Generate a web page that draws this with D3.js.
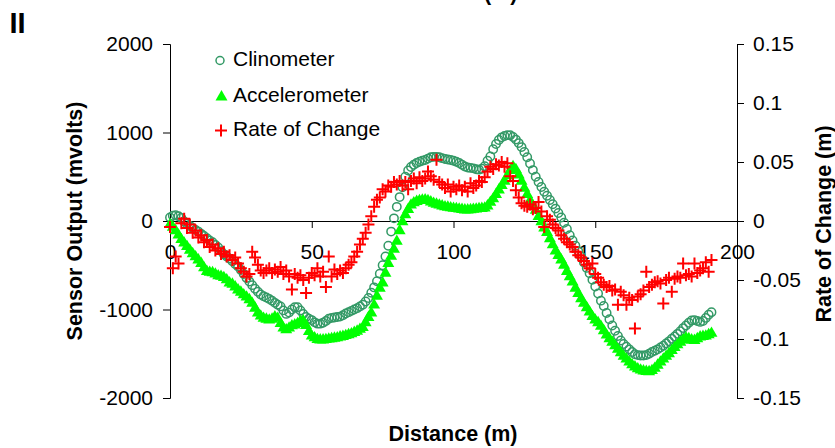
<!DOCTYPE html>
<html>
<head>
<meta charset="utf-8">
<script src="https://cdn.jsdelivr.net/npm/d3@7/dist/d3.min.js"></script>
<style>
  html, body { margin: 0; padding: 0; background: #fff; }
  svg { display: block; }
  text { font-family: "Liberation Sans", Arial, sans-serif; fill: #000; }
</style>
</head>
<body>
<svg id="chart" width="835" height="448"></svg>
<script>
// Distance along the profile (m)
const distance = [
  0,1,2,3,4,5,6,7,8,9,10,11,12,13,14,15,16,17,18,19,20,21,22,23,24,25,26,27,28,29,
  30,31,32,33,34,35,36,37,38,39,40,41,42,43,44,45,46,47,48,49,50,51,52,53,54,55,56,57,58,59,
  60,61,62,63,64,65,66,67,68,69,70,71,72,73,74,75,76,77,78,79,80,81,82,83,84,85,86,87,88,89,
  90,91,92,93,94,95,96,97,98,99,100,101,102,103,104,105,106,107,108,109,110,111,112,113,114,115,116,117,118,119,
  120,121,122,123,124,125,126,127,128,129,130,131,132,133,134,135,136,137,138,139,140,141,142,143,144,145,146,147,148,149,
  150,151,152,153,154,155,156,157,158,159,160,161,162,163,164,165,166,167,168,169,170,171,172,173,174,175,176,177,178,179,
  180,181,182,183,184,185,186,187,188,189,190,191
];

// Clinometer output (mV)
const clinometer = [
  40,60,65,55,35,-5,-30,-55,-80,-100,-120,-145,-170,-195,-220,-240,-270,-300,-340,-375,
  -400,-425,-455,-485,-515,-555,-600,-645,-685,-725,-765,-800,-830,-850,-865,-880,-900,-925,-945,-965,
  -1010,-1050,-1035,-1000,-975,-975,-1010,-1050,-1085,-1105,-1120,-1145,-1160,-1160,-1150,-1130,-1105,-1095,-1090,-1085,
  -1080,-1065,-1045,-1030,-1015,-1000,-985,-965,-945,-910,-870,-810,-750,-680,-595,-500,-400,-280,-120,30,
  160,270,380,500,570,610,635,655,670,680,690,705,720,725,725,720,710,700,695,690,
  680,670,655,635,615,605,600,595,585,580,590,620,680,730,810,870,915,945,960,970,
  970,950,920,880,835,780,720,650,575,500,440,385,330,285,237,190,140,90,40,-20,
  -90,-160,-220,-280,-340,-400,-470,-530,-590,-665,-740,-820,-900,-960,-1040,-1110,-1180,-1240,-1300,-1350,
  -1390,-1420,-1450,-1480,-1505,-1515,-1520,-1520,-1515,-1500,-1480,-1465,-1450,-1430,-1410,-1385,-1360,-1330,-1305,-1275,
  -1245,-1210,-1180,-1150,-1125,-1120,-1130,-1140,-1130,-1095,-1060,-1030
];

// Accelerometer output (mV)
const accelerometer = [
  -40,-70,-110,-160,-210,-250,-290,-330,-370,-405,-440,-480,-530,-570,-580,-585,-600,-620,-625,-640,
  -665,-700,-715,-745,-780,-805,-835,-860,-890,-930,-985,-1040,-1075,-1100,-1110,-1120,-1110,-1085,-1100,-1160,
  -1210,-1230,-1210,-1185,-1175,-1160,-1135,-1130,-1180,-1250,-1300,-1320,-1340,-1345,-1345,-1340,-1335,-1330,-1325,-1320,
  -1310,-1305,-1295,-1285,-1275,-1260,-1245,-1225,-1205,-1150,-1090,-1040,-950,-850,-760,-700,-590,-480,-400,-320,
  -230,-110,-10,70,130,180,205,220,230,235,237,230,215,200,190,180,170,160,155,148,
  143,140,135,130,125,125,128,132,135,140,142,145,170,210,250,300,350,400,450,510,
  570,615,580,520,450,370,300,230,170,120,50,-10,-80,-130,-200,-270,-340,-390,-440,-500,
  -570,-630,-690,-760,-820,-880,-930,-980,-1030,-1080,-1120,-1150,-1190,-1240,-1290,-1330,-1370,-1410,-1450,-1490,
  -1530,-1560,-1595,-1625,-1650,-1670,-1685,-1695,-1700,-1703,-1690,-1665,-1630,-1595,-1560,-1530,-1500,-1465,-1430,-1400,
  -1370,-1345,-1320,-1330,-1345,-1350,-1330,-1310,-1305,-1300,-1285,-1270
];

// Rate of change (m), secondary axis
const rateOfChange = [
  -0.005,-0.040,-0.030,-0.036,-0.002,0.002,-0.006,-0.003,-0.010,-0.008,-0.014,-0.012,-0.018,-0.016,-0.022,-0.020,-0.025,-0.023,-0.028,-0.026,
  -0.030,-0.029,-0.033,-0.031,-0.036,-0.040,-0.043,-0.047,-0.045,-0.026,-0.031,-0.037,-0.042,-0.044,-0.042,-0.040,-0.044,-0.041,-0.043,-0.039,
  -0.045,-0.042,-0.047,-0.058,-0.045,-0.048,-0.046,-0.050,-0.061,-0.048,-0.044,-0.046,-0.040,-0.047,-0.043,-0.056,-0.030,-0.047,-0.041,-0.045,
  -0.042,-0.044,-0.040,-0.037,-0.035,-0.030,-0.026,-0.020,-0.015,-0.010,-0.003,0.004,0.012,0.018,0.020,0.027,0.025,0.030,0.029,0.033,
  0.031,0.034,0.030,0.033,0.027,0.034,0.036,0.032,0.037,0.034,0.036,0.042,0.038,0.035,0.052,0.033,0.031,0.028,0.031,0.025,
  0.029,0.027,0.030,0.026,0.029,0.025,0.032,0.028,0.030,0.034,0.033,0.037,0.042,0.046,0.044,0.048,0.047,0.050,0.046,0.049,
  0.038,0.034,0.026,0.020,0.015,0.013,0.012,0.014,0.010,0.011,0.016,0.008,-0.005,0.004,0.001,-0.003,-0.006,-0.008,-0.012,-0.015,
  -0.018,-0.020,-0.022,-0.026,-0.029,-0.031,-0.034,-0.037,-0.040,-0.036,-0.045,-0.048,-0.052,-0.054,-0.056,-0.055,-0.059,-0.058,-0.071,-0.060,
  -0.063,-0.071,-0.065,-0.067,-0.091,-0.064,-0.062,-0.059,-0.043,-0.056,-0.054,-0.052,-0.051,-0.053,-0.070,-0.050,-0.048,-0.060,-0.049,-0.047,
  -0.048,-0.036,-0.046,-0.045,-0.047,-0.036,-0.044,-0.042,-0.040,-0.035,-0.043,-0.033
];

// Axis tick values
const xTicks = [0, 50, 100, 150, 200];
const yLeftTicks = [-2000, -1000, 0, 1000, 2000];
const yRightTicks = [-0.15, -0.1, -0.05, 0, 0.05, 0.1, 0.15];
const seriesNames = ["Clinometer", "Accelerometer", "Rate of Change"];

const COL_CLINO = "#339966";
const COL_ACCEL = "#00ff00";
const COL_RATE = "#ff0000";
const FONT = 21;

const svg = d3.select("#chart");

const x = d3.scaleLinear().domain([0, 200]).range([170, 737]);
const yL = d3.scaleLinear().domain([-2000, 2000]).range([398, 44]);
const yR = d3.scaleLinear().domain([-0.15, 0.15]).range([398, 44]);

// plain hyphen for negative numbers
const plain = d => String(+d.toFixed(2));

function styleAxis(g) {
  g.select(".domain").attr("stroke", "#000").attr("stroke-width", 1);
  g.selectAll(".tick line").attr("stroke", "#000").attr("stroke-width", 1);
  g.selectAll(".tick text")
    .attr("font-size", FONT)
    .attr("font-family", '"Liberation Sans", Arial, sans-serif')
    .attr("fill", "#000");
}

svg.append("g")
  .attr("transform", "translate(170,0)")
  .call(d3.axisLeft(yL).tickValues(yLeftTicks).tickSizeInner(7).tickSizeOuter(7).tickPadding(10)
    .tickFormat(plain))
  .call(styleAxis);

svg.append("g")
  .attr("transform", "translate(737,0)")
  .call(d3.axisRight(yR).tickValues(yRightTicks).tickSizeInner(7).tickSizeOuter(7).tickPadding(9)
    .tickFormat(plain))
  .call(styleAxis);

svg.append("g")
  .attr("transform", `translate(0,${Math.round(yL(0))})`)
  .call(d3.axisBottom(x).tickValues(xTicks).tickSizeInner(7).tickSizeOuter(0).tickPadding(16)
    .tickFormat(plain))
  .call(styleAxis);

// Series markers
const pts = distance.map((d, i) => ({ d, c: clinometer[i], a: accelerometer[i], r: rateOfChange[i] }));

const triangle = d3.symbol().type(d3.symbolTriangle).size(62);
const plusPath = "M-6,0H6M0,-6V6";

svg.append("g").selectAll("circle")
  .data(pts).join("circle")
  .attr("cx", p => x(p.d))
  .attr("cy", p => yL(p.c))
  .attr("r", 4.2)
  .attr("fill", "none")
  .attr("stroke", COL_CLINO)
  .attr("stroke-width", 1.5);

svg.append("g").selectAll("path")
  .data(pts).join("path")
  .attr("transform", p => `translate(${x(p.d)},${yL(p.a)})`)
  .attr("d", triangle)
  .attr("fill", COL_ACCEL);

svg.append("g").selectAll("path")
  .data(pts).join("path")
  .attr("transform", p => `translate(${x(p.d)},${yR(p.r)})`)
  .attr("d", plusPath)
  .attr("fill", "none")
  .attr("stroke", COL_RATE)
  .attr("stroke-width", 2);

// Legend
const legend = svg.append("g");
legend.append("circle").attr("cx", 220).attr("cy", 60.5).attr("r", 4)
  .attr("fill", "none").attr("stroke", COL_CLINO).attr("stroke-width", 1.5);
legend.append("path").attr("transform", "translate(221.5,97)")
  .attr("d", d3.symbol().type(d3.symbolTriangle).size(62)).attr("fill", COL_ACCEL);
legend.append("path").attr("transform", "translate(221,130.5)")
  .attr("d", plusPath).attr("fill", "none").attr("stroke", COL_RATE).attr("stroke-width", 2);
[66, 101.5, 135.5].forEach((yy, i) => {
  legend.append("text").attr("x", 233).attr("y", yy).attr("font-size", FONT).text(seriesNames[i]);
});

// Axis titles
svg.append("text")
  .attr("transform", "translate(82,221) rotate(-90)")
  .attr("text-anchor", "middle").attr("font-size", 21.5).attr("font-weight", "bold")
  .text("Sensor Output (mvolts)");

svg.append("text")
  .attr("transform", "translate(830.5,224) rotate(-90)")
  .attr("text-anchor", "middle").attr("font-size", 21.5).attr("font-weight", "bold")
  .text("Rate of Change (m)");

svg.append("text")
  .attr("x", 453).attr("y", 441)
  .attr("text-anchor", "middle").attr("font-size", 21.5).attr("font-weight", "bold")
  .text("Distance (m)");

// Axis title of the panel above, running off the top edge
svg.append("text")
  .attr("x", 453).attr("y", -0.5)
  .attr("text-anchor", "middle").attr("font-size", 21.5).attr("font-weight", "bold")
  .text("Distance (m)");

// Panel label
svg.append("text")
  .attr("x", 9.5).attr("y", 32.7)
  .attr("font-size", 29).attr("font-weight", "bold")
  .text("II");
</script>
</body>
</html>
